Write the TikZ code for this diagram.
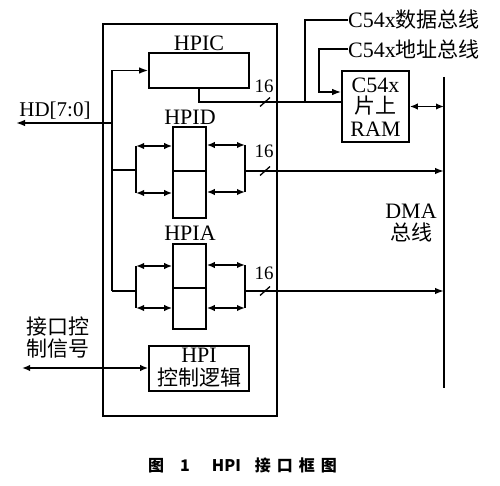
\documentclass[tikz,border=0pt]{standalone}
\usepackage{fontspec}
\setmainfont{Liberation Serif}
\newfontfamily\cjk{Noto Sans CJK SC}
\usetikzlibrary{arrows.meta,calc}
\begin{document}
\begin{tikzpicture}[x=1pt,y=-1pt,
  box/.style={draw, line width=1.6pt, inner sep=0pt},
  wire/.style={line width=1.6pt},
  arr/.style={wire, -{Latex[length=9pt,width=6.5pt]}},
  darr/.style={wire, {Latex[length=8pt,width=6.5pt]}-{Latex[length=8pt,width=6.5pt]}},
  lbl/.style={inner sep=0pt, font=\fontsize{21}{21}\selectfont},
  big/.style={inner sep=0pt, font=\fontsize{22}{22}\selectfont},
  num/.style={inner sep=0pt, font=\fontsize{19}{19}\selectfont},
  slash/.style={line width=1.3pt}]
\useasboundingbox (0,0) rectangle (500,486);

% boxes
\node[box, line width=1.7pt, minimum width=174, minimum height=392] (outer) at (190,220) {};
\node[box, minimum width=100, minimum height=35] (hpic) at (199,70.5) {};
\node[box, minimum width=33, minimum height=44] (hpid1) at (189.5,149) {};
\node[box, minimum width=33, minimum height=47] (hpid2) at (189.5,194.5) {};
\node[box, minimum width=33, minimum height=44] (hpia1) at (189.5,266) {};
\node[box, minimum width=33, minimum height=41] (hpia2) at (189.5,308.5) {};
\node[box, minimum width=100, minimum height=45] (ctrl) at (199,368.5) {};
\node[box, minimum width=67, minimum height=71] (ram) at (375.5,106.5) {};

% labels
\node[big] (lhpic) at (199,43) {HPIC};
\node[big] (lhpid) at (190,117) {HPID};
\node[big] (lhpia) at (190,233) {HPIA};
\node[lbl] (lhd) at (55,111) {HD[7:0]};
\node[big] (ram1) at (375.5,85) {C54x};
\node[lbl] (ram2) at (375.5,106) {\cjk 片上};
\node[big] (ram3) at (375.5,129) {RAM};
\node[big] (ctl1) at (199,355) {HPI};
\node[lbl] (ctl2) at (199,378) {\cjk 控制逻辑};
\node[lbl] (sig1) at (58,327) {\cjk 接口控};
\node[lbl] (sig2) at (58,349) {\cjk 制信号};
\node[big] (dma1) at (411,211) {DMA};
\node[lbl] (dma2) at (411,232) {\cjk 总线};
\node[big, anchor=west] (dbt) at (348,20) {C54x{\cjk\fontsize{21}{21}\selectfont 数据总线}};
\node[big, anchor=west] (abt) at (348,49) {C54x{\cjk\fontsize{21}{21}\selectfont 地址总线}};

% bus coordinates
\coordinate (busB) at (112,291);
\coordinate (hd) at (16,123);
\coordinate (dmaT) at (444,77);
\coordinate (dmaB) at (444,388);

% left internal bus
\draw[arr] (busB) |- (hpic.west);
\draw[arr] (busB |- hd) -- (hd);

% HPID
\coordinate (dl1) at (136,146); \coordinate (dl2) at (136,193); \coordinate (dlm) at (136,170);
\coordinate (dr1) at (245,145); \coordinate (dr2) at (245,192); \coordinate (drm) at (245,171);
\draw[wire] (busB |- dlm) -- (dlm);
\draw[wire] (dl1) -- (dl2);
\draw[darr] (dl1) -- (dl1 -| hpid1.west);
\draw[darr] (dl2) -- (dl2 -| hpid2.west);
\draw[wire] (dr1) -- (dr2);
\draw[darr] (dr1 -| hpid1.east) -- (dr1);
\draw[darr] (dr2 -| hpid2.east) -- (dr2);
\draw[arr] (drm) -- (drm -| dmaT);

% HPIA
\coordinate (al1) at (136,266); \coordinate (al2) at (136,308); \coordinate (alm) at (136,291);
\coordinate (ar1) at (245,265); \coordinate (ar2) at (245,308); \coordinate (arm) at (245,291);
\draw[wire] (busB) -- (alm);
\draw[wire] (al1) -- (al2);
\draw[darr] (al1) -- (al1 -| hpia1.west);
\draw[darr] (al2) -- (al2 -| hpia2.west);
\draw[wire] (ar1) -- (ar2);
\draw[darr] (ar1 -| hpia1.east) -- (ar1);
\draw[darr] (ar2 -| hpia2.east) -- (ar2);
\draw[arr] (arm) -- (arm -| dmaT);

% HPIC to RAM, data and address buses
\coordinate (hc) at (199,102);
\draw[wire] (hpic.south) -- (hc) -- (hc -| ram.west);
\coordinate (db) at (305,20);
\draw[wire] (db |- hc) -- (db) -- (dbt.west);
\coordinate (ab) at (319,92);
\draw[arr] (abt.west) -| (ab) -- (ab -| ram.west);
\draw[darr] (ram.east) -- (ram.east -| dmaT);

% DMA bus
\draw[wire] (dmaT) -- (dmaB);

% control signals
\coordinate (cs) at (22,368);
\draw[darr] (cs) -- (cs -| ctrl.west);

% width marks
\coordinate (sC) at (265,102);
\coordinate (sD) at (265,171);
\coordinate (sA) at (265,291);
\draw[slash] ($(sC)+(-5,4.5)$) -- ($(sC)+(5,-4.5)$);
\draw[slash] ($(sD)+(-5,4.5)$) -- ($(sD)+(5,-4.5)$);
\draw[slash] ($(sA)+(-5,4.5)$) -- ($(sA)+(5,-4.5)$);
\node[num] (nC) at (264,86) {16};
\node[num] (nD) at (264,151) {16};
\node[num] (nA) at (264,273) {16};

% caption
\node[inner sep=0pt, anchor=west, font=\cjk\bfseries\fontsize{16}{16}\selectfont] (cap) at (148,465)
  {图\hspace{16pt}1\hspace{22pt}HPI\hspace{14pt}接\hspace{6pt}口\hspace{6pt}框\hspace{6pt}图};
\end{tikzpicture}
\end{document}
